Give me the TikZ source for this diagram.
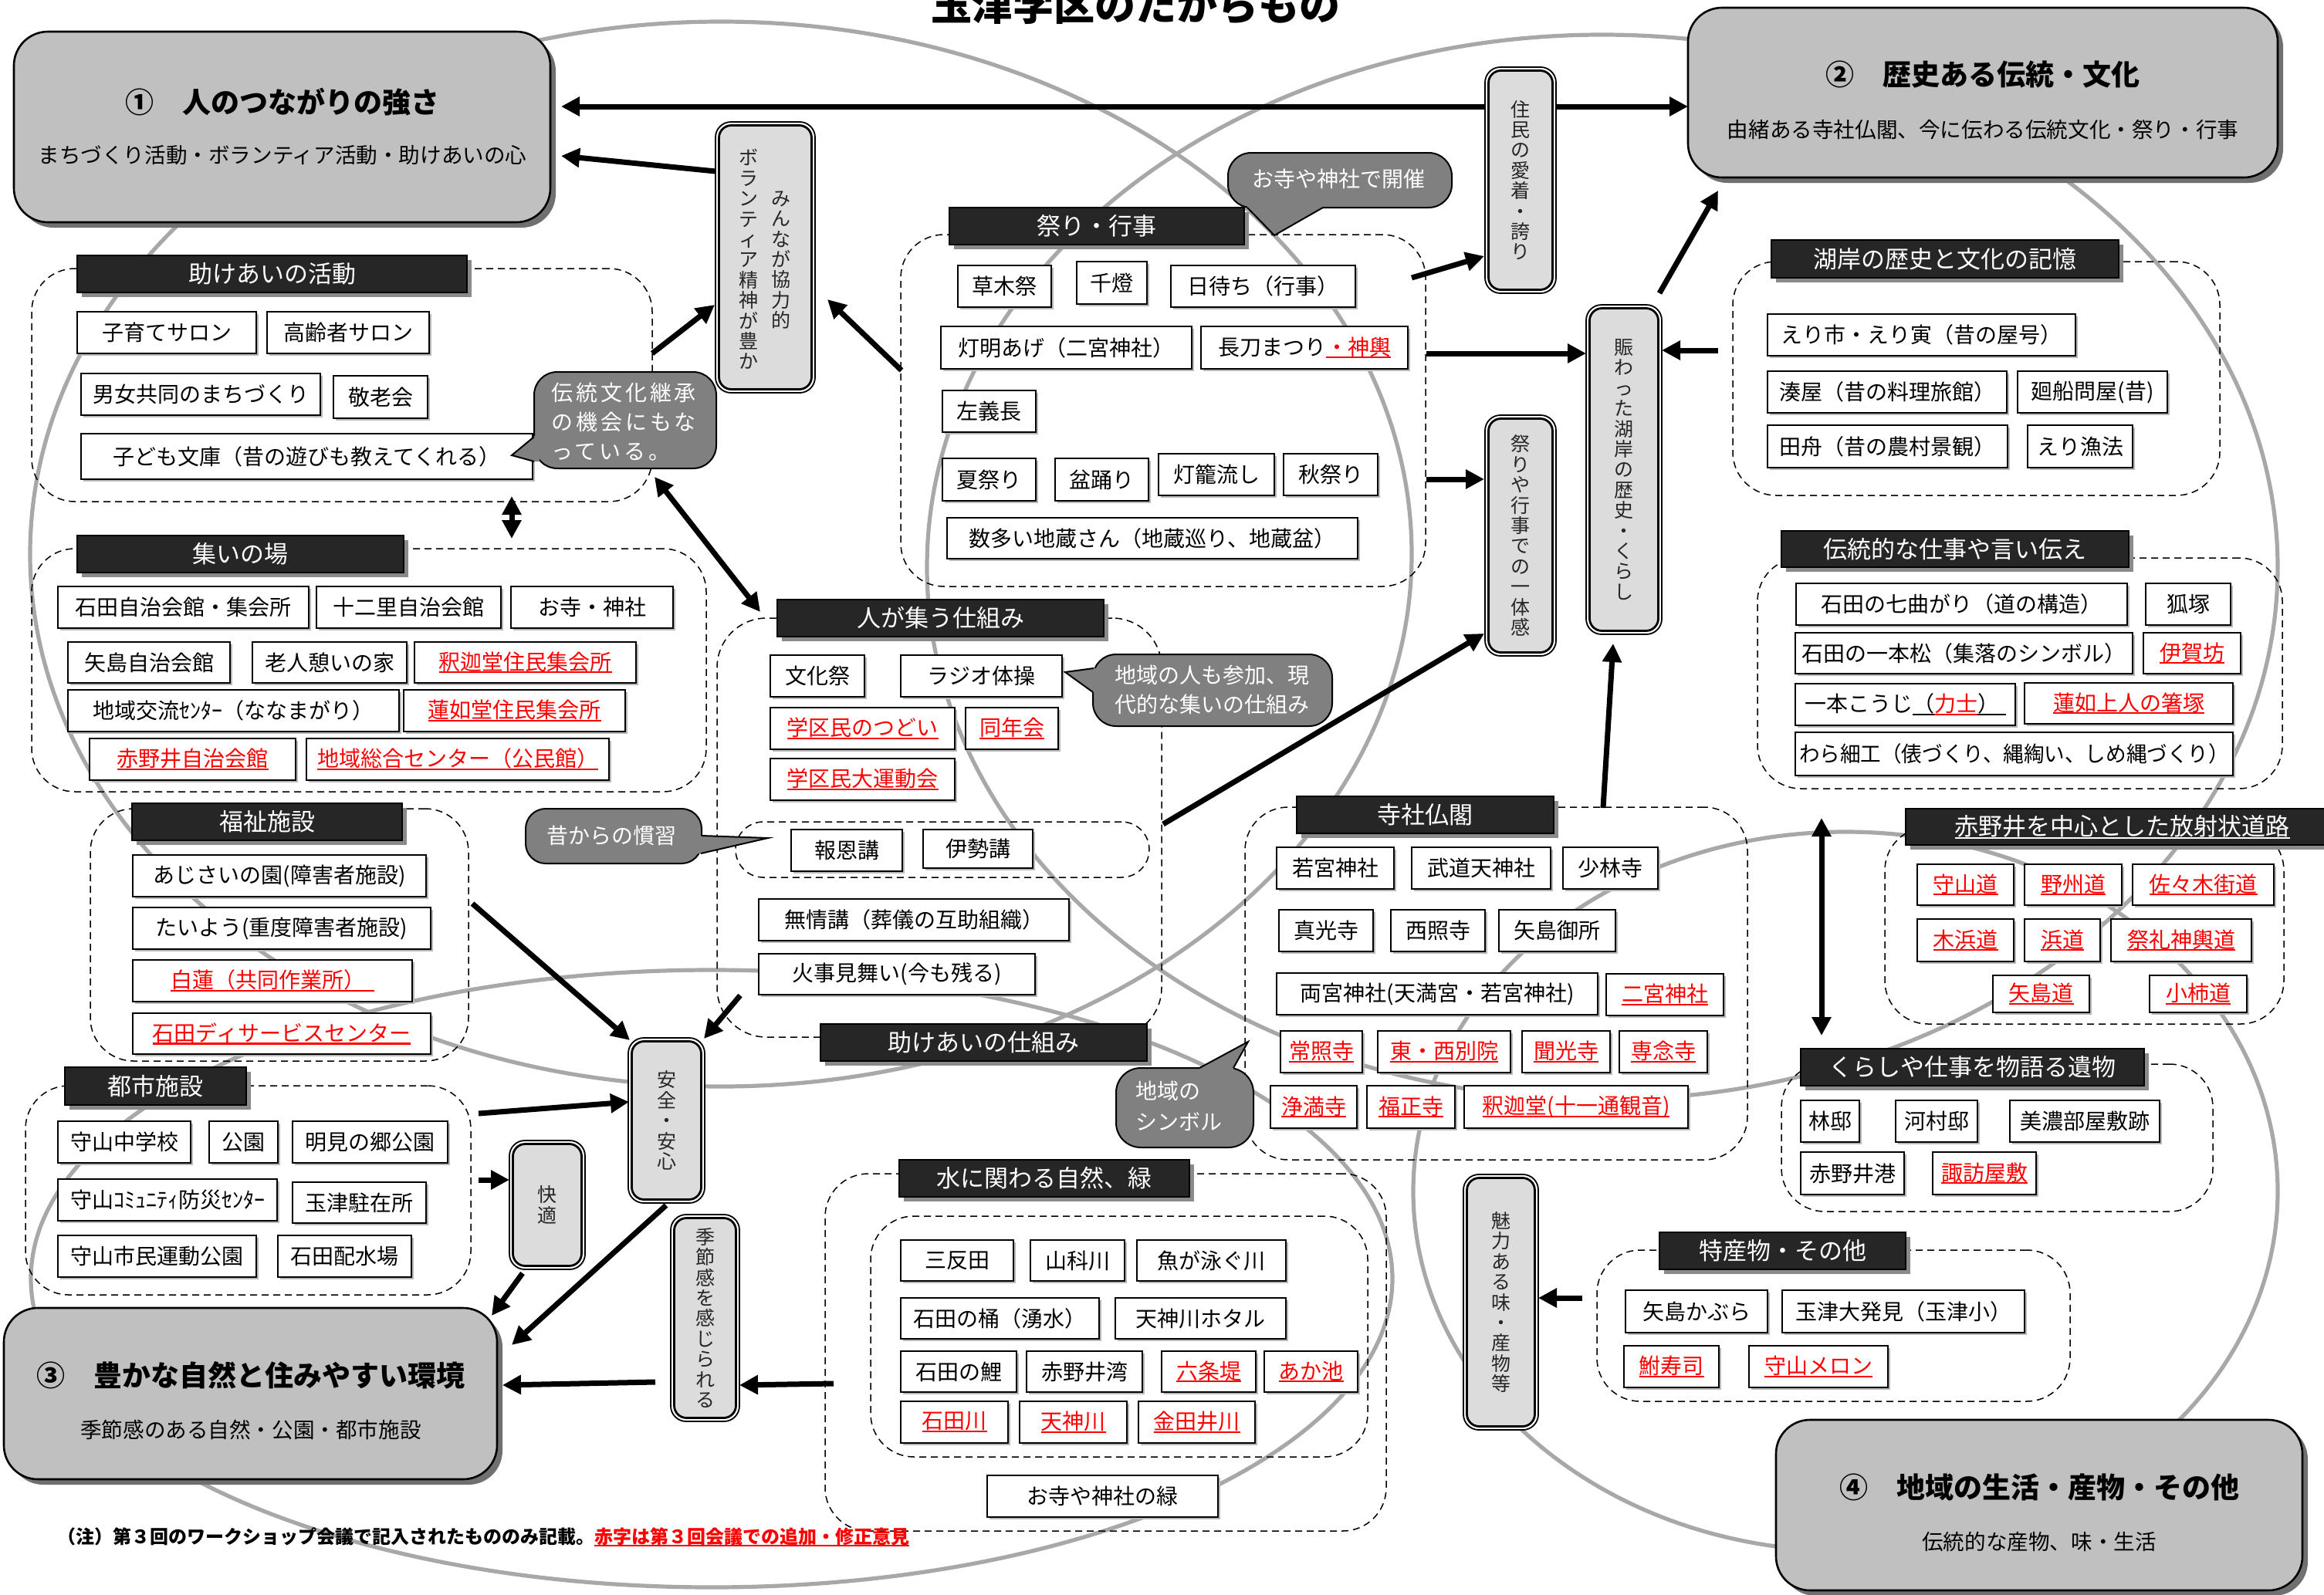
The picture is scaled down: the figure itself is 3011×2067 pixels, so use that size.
\documentclass[tikz,border=0pt]{standalone}
\usepackage{fontspec}
\setmainfont{Noto Sans CJK JP}
\usepackage{graphicx}
\usetikzlibrary{arrows.meta}
\definecolor{venngray}{HTML}{A8A8A8}
\definecolor{bigfill}{HTML}{C0C0C0}
\definecolor{bigshadow}{HTML}{707070}
\definecolor{hdrblack}{HTML}{262626}
\definecolor{hdrshadow}{HTML}{8A8A8A}
\definecolor{vfill}{HTML}{DCDCDC}
\definecolor{callgray}{HTML}{808080}
\definecolor{itemshadow}{HTML}{B8B8B8}
\makeatletter
\newcommand\fitbox[2]{\setbox0\hbox{#2}\ifdim\wd0>#1pt\relax\pgfmathsetmacro\fitsc{#1/\strip@pt\wd0}\scalebox{\fitsc}[1]{\box0}\else\box0\fi}
\makeatother
\newcommand\uln[1]{\leavevmode\setbox2\hbox{#1}\rlap{\rule[-0.15em]{\wd2}{0.075em}}\box2}
\newcommand\rdt[1]{\textcolor{red}{\uln{#1}}}
\newcommand\itm[6]{%
 \fill[itemshadow] ({#2+2.5},{#3+2.5}) rectangle ({#4+2.5},{#5+2.5});
 \pgfmathsetmacro\bxw{(#4-#2)*0.5}\pgfmathsetmacro\bxh{(#5-#3)*0.5}\pgfmathsetmacro\bxa{(#4-#2)*0.5-5}%
 \node[itembox,minimum width=\bxw pt,minimum height=\bxh pt] (#1) at ({(#2+#4)/2},{(#3+#5)/2}) {\fitbox{\bxa}{#6}};}
\newcommand\hdrbox[6]{%
 \fill[hdrshadow] ({#2+6},{#3+6}) rectangle ({#4+6},{#5+6});
 \pgfmathsetmacro\bxw{(#4-#2)*0.5}\pgfmathsetmacro\bxh{(#5-#3)*0.5}%
 \node[hdr,minimum width=\bxw pt,minimum height=\bxh pt] (#1) at ({(#2+#4)/2},{(#3+#5)/2}) {#6};}
\newcommand\contb[6][28pt]{%
 \pgfmathsetmacro\bxw{(#5-#3)*0.5}\pgfmathsetmacro\bxh{(#6-#4)*0.5}%
 \node[contbox,rounded corners=#1,minimum width=\bxw pt,minimum height=\bxh pt] (#2) at ({(#3+#5)/2},{(#4+#6)/2}) {};}
\newcommand\vlab[6]{%
 \pgfmathsetmacro\bxw{(#4-#2)*0.5}\pgfmathsetmacro\bxh{(#5-#3)*0.5}%
 \pgfmathsetmacro\bxwi{(#4-#2)*0.5-4.5}\pgfmathsetmacro\bxhi{(#5-#3)*0.5-4.5}%
 \node[vouter,minimum width=\bxw pt,minimum height=\bxh pt] (#1) at ({(#2+#4)/2},{(#3+#5)/2}) {};
 \node[vinner,minimum width=\bxwi pt,minimum height=\bxhi pt] (#1-in) at (#1.center) {};
 \node[vtext] (#1-t) at (#1.center) {#6};}
\newcommand\bigb[5]{%
 \fill[bigshad] ({#2+7},{#3+7}) rectangle ({#4+7},{#5+7});
 \pgfmathsetmacro\bxw{(#4-#2)*0.5}\pgfmathsetmacro\bxh{(#5-#3)*0.5}%
 \node[bigbox,minimum width=\bxw pt,minimum height=\bxh pt] (#1) at ({(#2+#4)/2},{(#3+#5)/2}) {};}
\begin{document}
\begin{tikzpicture}[x=0.5pt,y=-0.5pt,
 itembox/.style={draw=black,line width=1pt,fill=white,inner sep=0pt,font=\fontsize{14}{16}\selectfont},
 hdr/.style={draw=black,line width=0.8pt,fill=hdrblack,text=white,inner sep=0pt,font=\fontsize{15.5}{18}\selectfont},
 contbox/.style={draw=black,line width=0.75pt,dash pattern=on 4.5pt off 3pt,inner sep=0pt},
 vouter/.style={draw=black,line width=0.9pt,fill=white,rounded corners=10pt,inner sep=0pt},
 vinner/.style={draw=black,line width=1.4pt,fill=vfill,rounded corners=8pt,inner sep=0pt},
 vtext/.style={align=center,inner sep=0pt,text=black!85,font=\fontsize{12.5}{13.2}\selectfont},
 bigbox/.style={draw=black,line width=1.3pt,fill=bigfill,rounded corners=22pt,inner sep=0pt},
 bigshad/.style={fill=bigshadow,rounded corners=22pt},
 callbox/.style={draw=black,line width=1pt,fill=callgray,rounded corners=13pt},
 calltext/.style={text=white,inner sep=0pt,align=left,font=\fontsize{14}{19}\selectfont},
 bigtitle/.style={inner sep=0pt,font=\bfseries\fontsize{18.5}{20}\selectfont},
 bigsub/.style={inner sep=0pt,font=\fontsize{13.8}{16}\selectfont},
 arr/.style={-{Triangle[length=12pt,width=12pt]},line width=3.5pt},
 darr/.style={{Triangle[length=12pt,width=12pt]}-{Triangle[length=12pt,width=12pt]},line width=3.5pt},
 venn/.style={draw=venngray,line width=2.6pt}]
\useasboundingbox (0,0) rectangle (3011,2067);
\fill[white] (0,0) rectangle (3011,2067);
% Venn curves
\draw[venn] (934,718) ellipse [x radius=447.5pt, y radius=345pt];
\draw[venn] (2076,735) ellipse [x radius=437.5pt, y radius=345pt];
\draw[venn] (922,1657) ellipse [x radius=441pt, y radius=200pt];
\draw[venn] (2391,1544) ellipse [x radius=280pt, y radius=233pt];
% title
\node[anchor=base,inner sep=0pt,font=\bfseries\fontsize{26.5}{28}\selectfont] (title) at (1471,26) {玉津学区のたからもの};
% containers
\contb{c-tasuke}{41}{348}{845}{650}
\contb{c-tsudoi}{41}{711}{915}{1026}
\contb{c-fukushi}{117}{1048}{607}{1375}
\contb{c-toshi}{33}{1407}{610}{1678}
\contb{c-matsuri}{1167}{304}{1847}{760}
\contb[32pt]{c-hito}{929}{801}{1505}{1344}
\contb[18pt]{c-kou}{953}{1065}{1489}{1137}
\contb{c-jisha}{1613}{1046}{2264}{1503}
\contb{c-mizu}{1069}{1521}{1796}{1984}
\contb{c-mizu2}{1128}{1576}{1772}{1888}
\contb{c-kogan}{2245}{339}{2876}{642}
\contb{c-dento}{2277}{723}{2957}{1022}
\contb{c-doro}{2442}{1072}{2959}{1327}
\contb{c-kurashi}{2308}{1379}{2867}{1570}
\contb{c-toku}{2069}{1620}{2682}{1816}
% big boxes
\bigb{b1}{18}{41}{713}{288}
\node[bigtitle] (b1-t) at (366,132) {①　人のつながりの強さ};
\node[bigsub] (b1-s) at (366,201) {まちづくり活動・ボランティア活動・助けあいの心};
\bigb{b2}{2187}{10}{2951}{230}
\node[bigtitle] (b2-t) at (2569,97) {②　歴史ある伝統・文化};
\node[bigsub] (b2-s) at (2569,168) {由緒ある寺社仏閣、今に伝わる伝統文化・祭り・行事};
\bigb{b3}{5}{1695}{644}{1917}
\node[bigtitle] (b3-t) at (325,1782) {③　豊かな自然と住みやすい環境};
\node[bigsub] (b3-s) at (325,1853) {季節感のある自然・公園・都市施設};
\bigb{b4}{2301}{1840}{2983}{2061}
\node[bigtitle] (b4-t) at (2642,1927) {④　地域の生活・産物・その他};
\node[bigsub] (b4-s) at (2642,1998) {伝統的な産物、味・生活};
% headers
\hdrbox{h-tasuke}{100}{331}{605}{379}{助けあいの活動}
\hdrbox{h-tsudoi}{100}{694}{523}{742}{集いの場}
\hdrbox{h-fukushi}{171}{1041}{521}{1089}{福祉施設}
\hdrbox{h-toshi}{84}{1383}{319}{1432}{都市施設}
\hdrbox{h-matsuri}{1230}{269}{1612}{317}{祭り・行事}
\hdrbox{h-hito}{1007}{777}{1430}{825}{人が集う仕組み}
\hdrbox{h-tasuke2}{1063}{1327}{1486}{1375}{助けあいの仕組み}
\hdrbox{h-jisha}{1680}{1032}{2013}{1080}{寺社仏閣}
\hdrbox{h-mizu}{1165}{1503}{1541}{1551}{水に関わる自然、緑}
\hdrbox{h-kogan}{2295}{311}{2745}{360}{湖岸の歴史と文化の記憶}
\hdrbox{h-dento}{2308}{688}{2758}{735}{伝統的な仕事や言い伝え}
\hdrbox{h-doro}{2469}{1048}{3030}{1095}{\uln{赤野井を中心とした放射状道路}}
\hdrbox{h-kurashi}{2333}{1359}{2778}{1407}{くらしや仕事を物語る遺物}
\hdrbox{h-toku}{2150}{1597}{2469}{1645}{特産物・その他}
% items: 助けあいの活動
\itm{i01}{100}{404}{332}{458}{子育てサロン}
\itm{i02}{346}{404}{556}{458}{高齢者サロン}
\itm{i03}{105}{484}{415}{538}{男女共同のまちづくり}
\itm{i04}{432}{487}{554}{542}{敬老会}
\itm{i05}{105}{562}{690}{621}{子ども文庫（昔の遊びも教えてくれる）}
% 集いの場
\itm{i06}{75}{760}{400}{814}{石田自治会館・集会所}
\itm{i07}{410}{760}{649}{814}{十二里自治会館}
\itm{i08}{662}{760}{872}{814}{お寺・神社}
\itm{i09}{88}{832}{298}{885}{矢島自治会館}
\itm{i10}{327}{832}{527}{885}{老人憩いの家}
\itm{i11}{537}{832}{824}{885}{\rdt{釈迦堂住民集会所}}
\itm{i12}{88}{894}{517}{948}{地域交流ｾﾝﾀｰ（ななまがり）}
\itm{i13}{523}{894}{810}{948}{\rdt{蓮如堂住民集会所}}
\itm{i14}{116}{957}{383}{1011}{\rdt{赤野井自治会館}}
\itm{i15}{397}{957}{789}{1011}{\rdt{地域総合センター（公民館）}}
% 福祉施設
\itm{i16}{172}{1108}{552}{1162}{あじさいの園(障害者施設)}
\itm{i17}{172}{1176}{558}{1230}{たいよう(重度障害者施設)}
\itm{i18}{172}{1244}{534}{1298}{\rdt{白蓮（共同作業所）\hspace{0.4em}}}
\itm{i19}{172}{1313}{558}{1366}{\rdt{石田ディサービスセンター}}
% 都市施設
\itm{i20}{75}{1453}{247}{1507}{守山中学校}
\itm{i21}{271}{1453}{360}{1507}{公園}
\itm{i22}{379}{1453}{580}{1507}{明見の郷公園}
\itm{i23}{75}{1528}{359}{1582}{守山ｺﾐｭﾆﾃｨ防災ｾﾝﾀｰ}
\itm{i24}{379}{1532}{552}{1585}{玉津駐在所}
\itm{i25}{75}{1601}{332}{1655}{守山市民運動公園}
\itm{i26}{360}{1601}{533}{1655}{石田配水場}
% 祭り・行事
\itm{i27}{1241}{344}{1362}{398}{草木祭}
\itm{i28}{1395}{339}{1486}{394}{千燈}
\itm{i29}{1517}{344}{1756}{398}{日待ち（行事）}
\itm{i30}{1219}{423}{1544}{478}{灯明あげ（二宮神社）}
\itm{i31}{1556}{423}{1824}{478}{長刀まつり\rdt{・神輿}}
\itm{i32}{1221}{506}{1342}{560}{左義長}
\itm{i33}{1221}{594}{1342}{649}{夏祭り}
\itm{i34}{1367}{594}{1488}{649}{盆踊り}
\itm{i35}{1501}{588}{1651}{642}{灯籠流し}
\itm{i36}{1663}{588}{1785}{642}{秋祭り}
\itm{i37}{1227}{671}{1759}{724}{数多い地蔵さん（地蔵巡り、地蔵盆）}
% 人が集う仕組み / 助けあいの仕組み
\itm{i38}{998}{849}{1120}{903}{文化祭}
\itm{i39}{1167}{849}{1376}{903}{ラジオ体操}
\itm{i40}{998}{917}{1237}{971}{\rdt{学区民のつどい}}
\itm{i41}{1251}{917}{1371}{971}{\rdt{同年会}}
\itm{i42}{998}{983}{1237}{1037}{\rdt{学区民大運動会}}
\itm{i43}{1025}{1075}{1169}{1129}{報恩講}
\itm{i44}{1196}{1075}{1338}{1125}{伊勢講}
\itm{i45}{983}{1165}{1385}{1219}{無情講（葬儀の互助組織）}
\itm{i46}{983}{1236}{1341}{1289}{火事見舞い(今も残る)}
% 寺社仏閣
\itm{i47}{1654}{1098}{1806}{1152}{若宮神社}
\itm{i48}{1829}{1098}{2009}{1152}{武道天神社}
\itm{i49}{2025}{1098}{2148}{1152}{少林寺}
\itm{i50}{1657}{1179}{1779}{1233}{真光寺}
\itm{i51}{1802}{1179}{1924}{1233}{西照寺}
\itm{i52}{1942}{1179}{2093}{1233}{矢島御所}
\itm{i53}{1654}{1261}{2070}{1315}{両宮神社(天満宮・若宮神社)}
\itm{i54}{2081}{1262}{2233}{1316}{\rdt{二宮神社}}
\itm{i55}{1659}{1336}{1765}{1390}{\rdt{常照寺}}
\itm{i56}{1785}{1336}{1957}{1390}{\rdt{東・西別院}}
\itm{i57}{1972}{1336}{2086}{1390}{\rdt{聞光寺}}
\itm{i58}{2098}{1336}{2212}{1390}{\rdt{専念寺}}
\itm{i59}{1646}{1407}{1758}{1462}{\rdt{浄満寺}}
\itm{i60}{1771}{1407}{1885}{1462}{\rdt{福正寺}}
\itm{i61}{1897}{1407}{2187}{1462}{\rdt{釈迦堂(十一通観音)}}
% 水に関わる自然、緑
\itm{i62}{1167}{1607}{1313}{1660}{三反田}
\itm{i63}{1335}{1607}{1457}{1660}{山科川}
\itm{i64}{1473}{1607}{1666}{1660}{魚が泳ぐ川}
\itm{i65}{1167}{1682}{1424}{1735}{石田の桶（湧水）}
\itm{i66}{1445}{1682}{1666}{1735}{天神川ホタル}
\itm{i67}{1167}{1751}{1317}{1804}{石田の鯉}
\itm{i68}{1330}{1751}{1480}{1804}{赤野井湾}
\itm{i69}{1505}{1751}{1627}{1804}{\rdt{六条堤}}
\itm{i70}{1638}{1751}{1759}{1804}{\rdt{あか池}}
\itm{i71}{1167}{1816}{1306}{1870}{\rdt{石田川}}
\itm{i72}{1321}{1816}{1460}{1870}{\rdt{天神川}}
\itm{i73}{1475}{1816}{1626}{1870}{\rdt{金田井川}}
\itm{i74}{1279}{1912}{1578}{1966}{お寺や神社の緑}
% 湖岸の歴史と文化の記憶
\itm{i75}{2290}{407}{2689}{461}{えり市・えり寅（昔の屋号）}
\itm{i76}{2290}{481}{2600}{535}{湊屋（昔の料理旅館）}
\itm{i77}{2614}{481}{2808}{535}{廻船問屋(昔)}
\itm{i78}{2290}{551}{2601}{606}{田舟（昔の農村景観）}
\itm{i79}{2627}{551}{2763}{606}{えり漁法}
% 伝統的な仕事や言い伝え
\itm{i80}{2327}{756}{2756}{810}{石田の七曲がり（道の構造）}
\itm{i81}{2780}{756}{2890}{810}{狐塚}
\itm{i82}{2326}{820}{2763}{873}{石田の一本松（集落のシンボル）}
\itm{i83}{2777}{820}{2903}{873}{\rdt{伊賀坊}}
\itm{i84}{2326}{886}{2611}{940}{一本こうじ\uln{（}\rdt{力士}\uln{）\hspace{0.3em}}}
\itm{i85}{2623}{885}{2893}{938}{\rdt{蓮如上人の箸塚}}
\itm{i86}{2326}{949}{2893}{1005}{わら細工（俵づくり、縄綯い、しめ縄づくり）}
% 放射状道路
\itm{i87}{2484}{1120}{2609}{1173}{\rdt{守山道}}
\itm{i88}{2623}{1120}{2749}{1173}{\rdt{野州道}}
\itm{i89}{2763}{1120}{2946}{1173}{\rdt{佐々木街道}}
\itm{i90}{2484}{1191}{2609}{1246}{\rdt{木浜道}}
\itm{i91}{2623}{1191}{2721}{1246}{\rdt{浜道}}
\itm{i92}{2735}{1191}{2917}{1246}{\rdt{祭礼神輿道}}
\itm{i93}{2582}{1264}{2707}{1312}{\rdt{矢島道}}
\itm{i94}{2785}{1264}{2911}{1312}{\rdt{小柿道}}
% くらしや仕事を物語る遺物
\itm{i95}{2333}{1426}{2409}{1480}{林邸}
\itm{i96}{2456}{1426}{2562}{1480}{河村邸}
\itm{i97}{2604}{1426}{2798}{1480}{美濃部屋敷跡}
\itm{i98}{2333}{1493}{2467}{1548}{赤野井港}
\itm{i99}{2504}{1493}{2638}{1548}{\rdt{諏訪屋敷}}
% 特産物・その他
\itm{i100}{2106}{1672}{2290}{1727}{矢島かぶら}
\itm{i101}{2309}{1672}{2623}{1727}{玉津大発見（玉津小）}
\itm{i102}{2104}{1744}{2227}{1798}{\rdt{鮒寿司}}
\itm{i103}{2266}{1744}{2446}{1798}{\rdt{守山メロン}}
% vertical label boxes
\vlab{v-vol}{927}{158}{1056}{509}{}
\node[vtext] (v-vol-a) at (970,336) {ボ\\ラ\\ン\\テ\\ィ\\ア\\精\\神\\が\\豊\\か};
\node[vtext] (v-vol-b) at (1012,337) {み\\ん\\な\\が\\協\\力\\的};
\vlab{v-zyumin}{1924}{87}{2016}{380}{住\\民\\の\\愛\\着\\・\\誇\\り}
\vlab{v-ittai}{1924}{538}{2016}{850}{祭\\り\\や\\行\\事\\で\\の\\一\\体\\感}
\vlab{v-nigiwai}{2055}{395}{2153}{822}{賑\\わ\\っ\\た\\湖\\岸\\の\\歴\\史\\・\\く\\ら\\し}
\vlab{v-anzen}{814}{1345}{913}{1559}{安\\全\\・\\安\\心}
\vlab{v-kaiteki}{660}{1478}{758}{1645}{快\\適}
\vlab{v-kisetsu}{869}{1574}{958}{1842}{季\\節\\感\\を\\感\\じ\\ら\\れ\\る}
\vlab{v-miryoku}{1896}{1522}{1993}{1853}{魅\\力\\あ\\る\\味\\・\\産\\物\\等}
% callouts
\draw[callbox,rounded corners=15pt] (692,482) rectangle (928,607);
\fill[callgray] (699,565) -- (692,565) -- (663,590) -- (692,598) -- (699,598) -- cycle;
\draw[line width=1pt] (692,566) -- (663,590) -- (692,598);
\node[calltext,anchor=west] (co1) at (714,547) {\addfontfeature{LetterSpace=14}伝統文化継承\\\addfontfeature{LetterSpace=14}の機会にもな\\\addfontfeature{LetterSpace=14}っている。};
\draw[callbox,rounded corners=15pt] (1591,198) rectangle (1881,269);
\fill[callgray] (1616,262) -- (1616,269) -- (1651,305) -- (1714,269) -- (1714,262) -- cycle;
\draw[line width=1pt] (1616,269) -- (1651,305) -- (1714,269);
\node[calltext] (co2) at (1734,232) {お寺や神社で開催};
\draw[callbox,rounded corners=15pt] (1416,848) rectangle (1726,941);
\fill[callgray] (1424,866) -- (1417,866) -- (1380,871) -- (1416,897) -- (1424,897) -- cycle;
\draw[line width=1pt] (1417,866) -- (1380,871) -- (1416,897);
\node[calltext,anchor=west] (co3) at (1444,894) {地域の人も参加、現\\代的な集いの仕組み};
\draw[callbox,rounded corners=13pt] (681,1048) rectangle (909,1119);
\fill[callgray] (902,1083) -- (909,1083) -- (995,1086) -- (908,1106) -- (902,1106) -- cycle;
\draw[line width=1pt] (909,1083) -- (995,1086) -- (908,1106);
\node[calltext] (co4) at (792,1083) {昔からの慣習};
\draw[callbox,rounded corners=16pt] (1446,1384) rectangle (1624,1487);
\fill[callgray] (1554,1391) -- (1554,1384) -- (1617,1350) -- (1598,1384) -- (1598,1391) -- cycle;
\draw[line width=1pt] (1554,1384) -- (1617,1350) -- (1598,1384);
\node[calltext,anchor=west,font=\fontsize{14}{20}\selectfont] (co5) at (1471,1433) {地域の\\シンボル};
% arrows
\coordinate (A1a) at (1924,138); \coordinate (A1b) at (727,138);
\coordinate (A2a) at (2016,138); \coordinate (A2b) at (2187,138);
\coordinate (A3a) at (927,222); \coordinate (A3b) at (727,202);
\coordinate (A4a) at (845,458); \coordinate (A4b) at (926,395);
\coordinate (A5a) at (1168,480); \coordinate (A5b) at (1072,388);
\coordinate (A6a) at (1829,360); \coordinate (A6b) at (1923,332);
\coordinate (A7a) at (1848,458); \coordinate (A7b) at (2055,458);
\coordinate (A8a) at (1848,621); \coordinate (A8b) at (1923,621);
\coordinate (A9a) at (2150,380); \coordinate (A9b) at (2226,247);
\coordinate (A10a) at (2226,454); \coordinate (A10b) at (2153,454);
\coordinate (A11a) at (2077,1047); \coordinate (A11b) at (2090,834);
\coordinate (A12a) at (1507,1068); \coordinate (A12b) at (1923,821);
\coordinate (A13a) at (848,618); \coordinate (A13b) at (985,793);
\coordinate (A14a) at (663,643); \coordinate (A14b) at (663,698);
\coordinate (A15a) at (612,1171); \coordinate (A15b) at (816,1348);
\coordinate (A16a) at (959,1290); \coordinate (A16b) at (912,1346);
\coordinate (A17a) at (620,1443); \coordinate (A17b) at (815,1428);
\coordinate (A18a) at (620,1529); \coordinate (A18b) at (660,1529);
\coordinate (A19a) at (677,1650); \coordinate (A19b) at (637,1705);
\coordinate (A20a) at (863,1562); \coordinate (A20b) at (663,1743);
\coordinate (A21a) at (849,1791); \coordinate (A21b) at (651,1795);
\coordinate (A22a) at (1080,1793); \coordinate (A22b) at (958,1795);
\coordinate (A23a) at (2050,1682); \coordinate (A23b) at (1993,1682);
\coordinate (A24a) at (2360,1060); \coordinate (A24b) at (2360,1342);
\foreach \k in {1,...,12,15,16,17,18,19,20,21,22,23} {\draw[arr] (A\k a) -- (A\k b);}
\draw[darr] (A13a) -- (A13b);
\draw[darr] (A14a) -- (A14b);
\draw[darr] (A24a) -- (A24b);
% footnote
\node[anchor=west,inner sep=0pt,font=\bfseries\fontsize{12}{14}\selectfont] (note) at (74,1992) {（注）第３回のワークショップ会議で記入されたもののみ記載。\textcolor{red}{\uln{赤字は第３回会議での追加・修正意見}}};
\end{tikzpicture}
\end{document}
